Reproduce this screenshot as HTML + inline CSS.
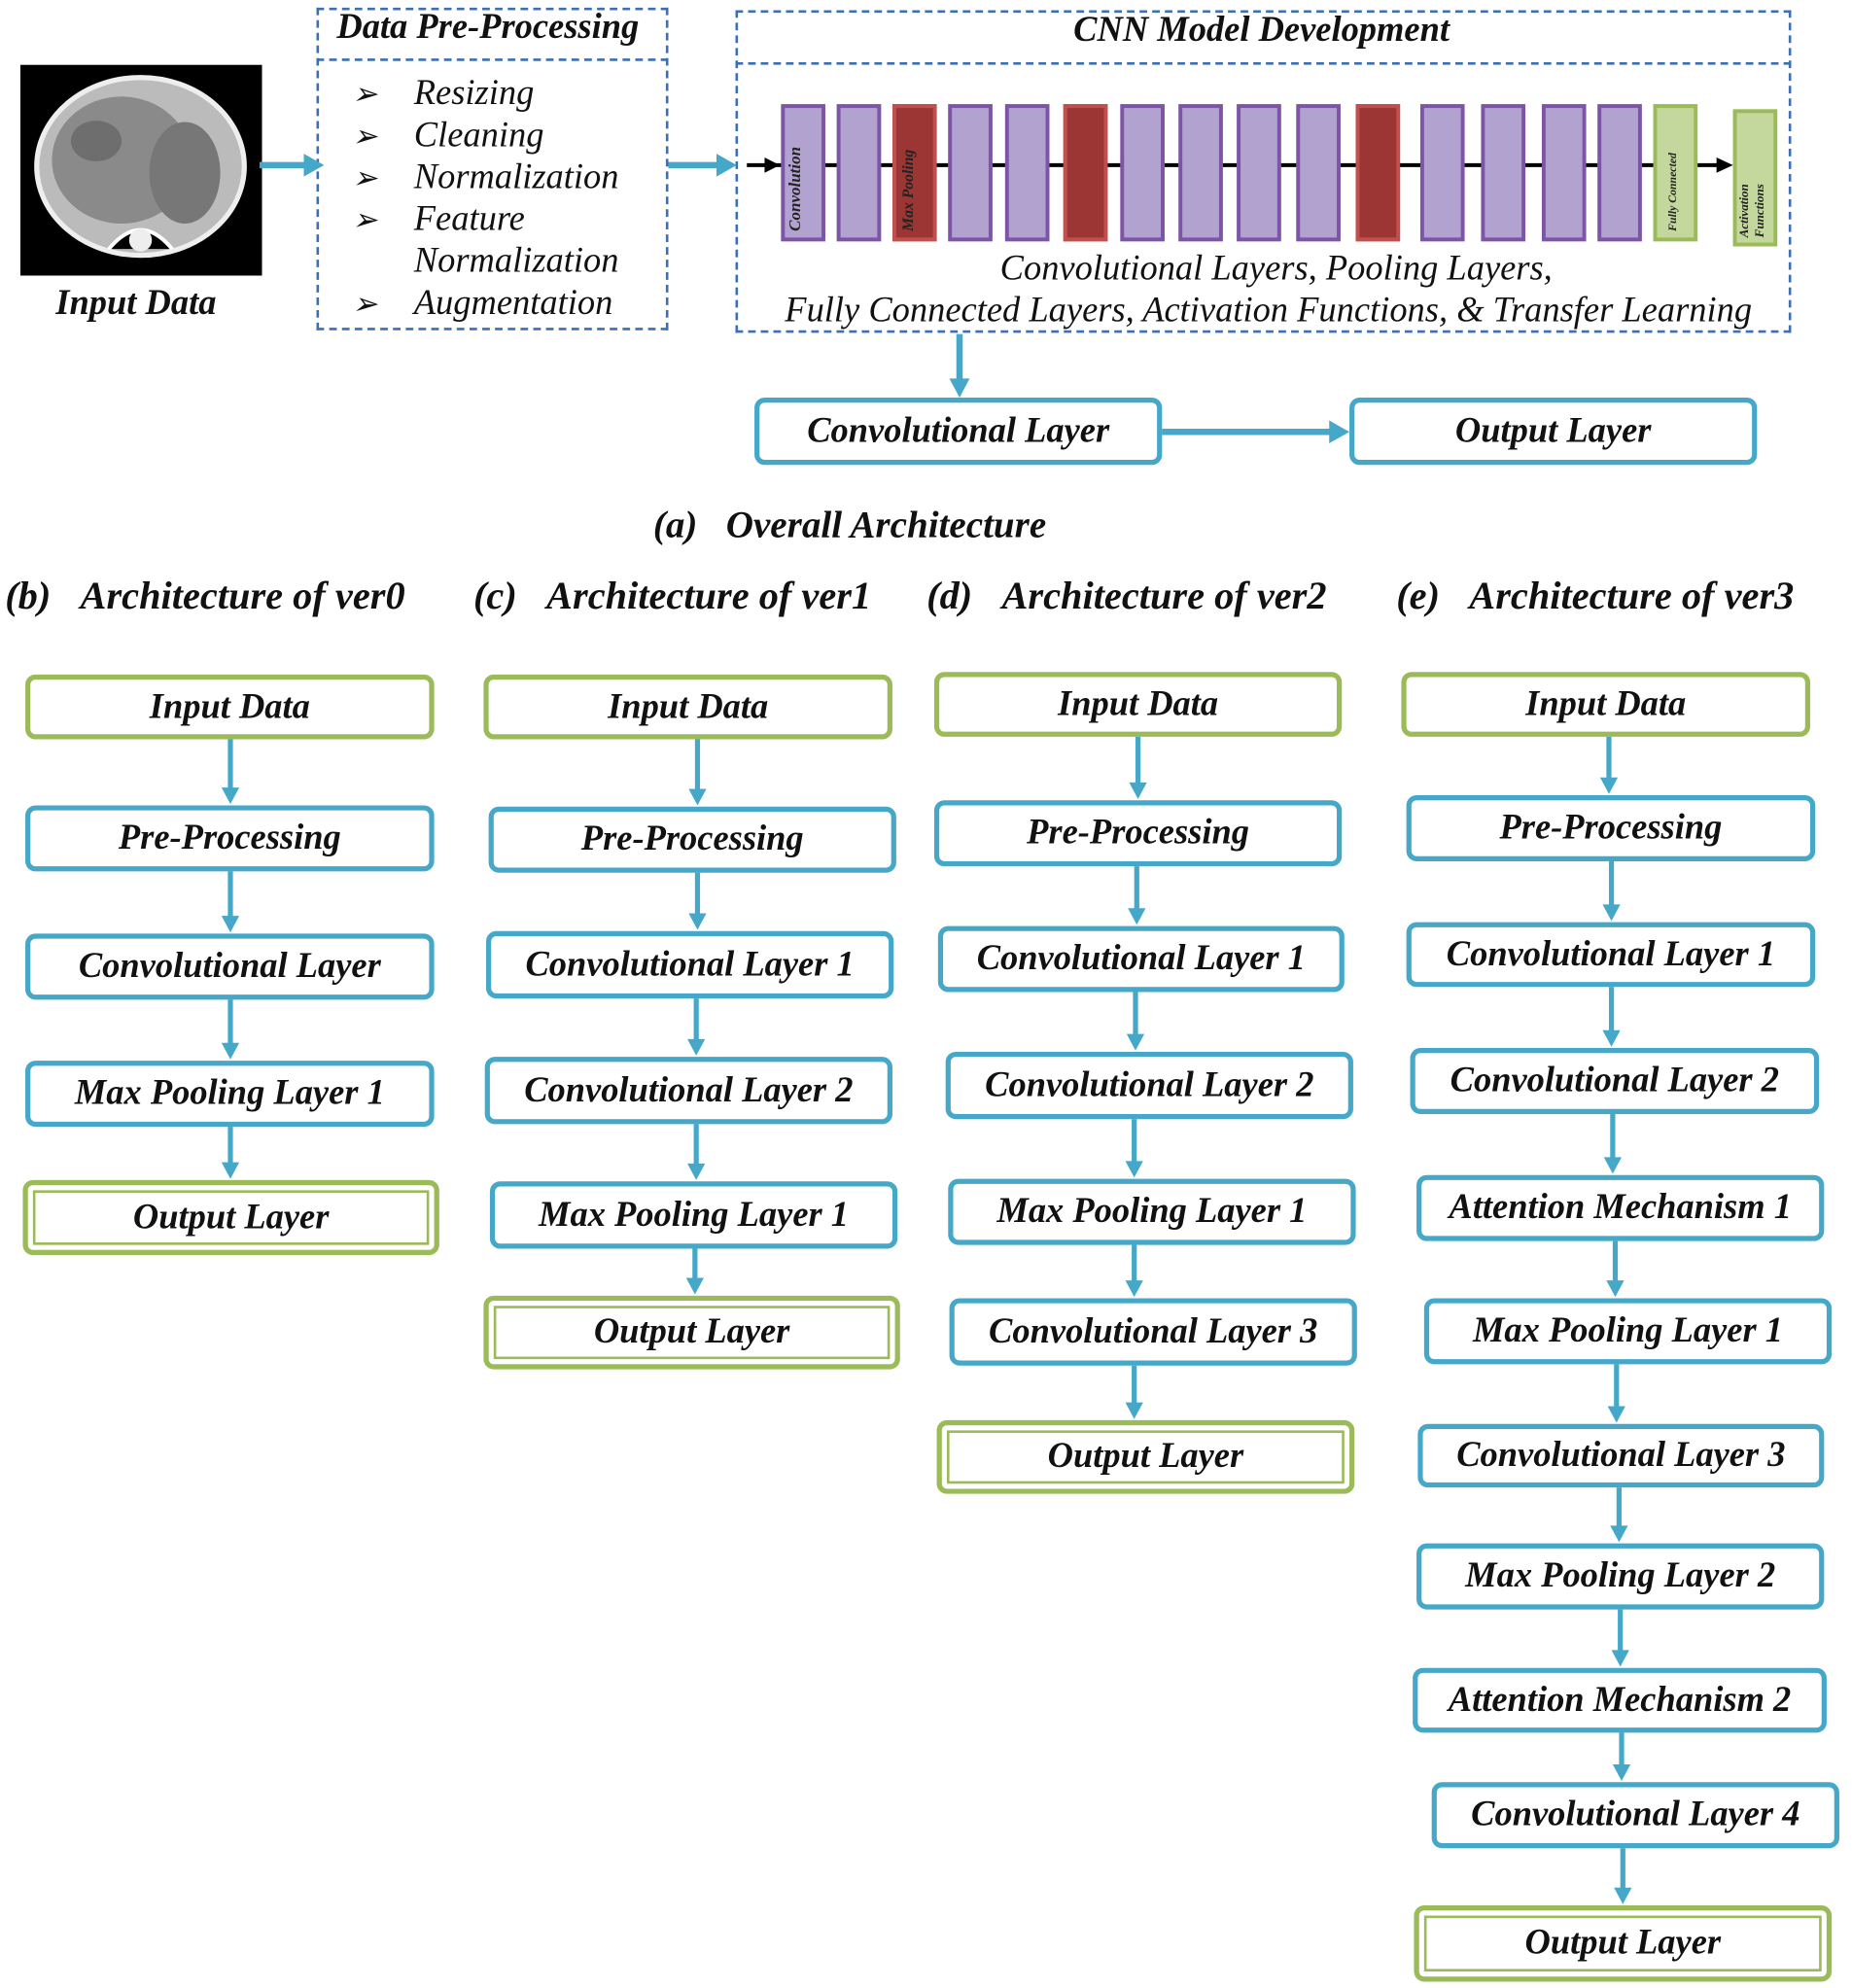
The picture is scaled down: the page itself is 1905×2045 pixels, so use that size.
<!DOCTYPE html>
<html><head><meta charset="utf-8">
<style>
html,body{margin:0;padding:0;background:#fff;}
body{width:1905px;height:2045px;overflow:hidden;position:relative;}
#w{position:absolute;left:0;top:0;width:1463px;height:1565px;transform:scale(1.3021,1.3067);transform-origin:0 0;font-family:"Liberation Serif",serif;}
.a{position:absolute;}
.t{position:absolute;font-style:italic;white-space:nowrap;color:#111;}
.b{position:absolute;box-sizing:border-box;border:4px solid #45a8c8;border-radius:8px;background:#fff;display:flex;align-items:center;justify-content:center;font-style:italic;font-weight:bold;font-size:28px;color:#111;white-space:nowrap;}
.g{border-color:#9bbb59;}
.o{border:4px solid #9bbb59;box-shadow:inset 0 0 0 4px #fff,inset 0 0 0 6px #9bbb59;border-radius:8px;}
.h{position:absolute;font-style:italic;font-weight:bold;font-size:31px;white-space:nowrap;color:#111;}
.bar{position:absolute;box-sizing:border-box;border:3px solid #7d55a6;background:#b2a2cf;top:82px;height:108px;width:35px;}
.r{background:#9b3634;border-color:#c0504d;}
.gr{background:#c4d79c;border-color:#9bbb59;}
.v{position:absolute;writing-mode:vertical-rl;transform:rotate(180deg);font-style:italic;font-weight:bold;color:#222;white-space:nowrap;}
</style></head><body>
<div id="w">
<svg class="a" style="left:16px;top:51px" width="191" height="166">
<rect width="191" height="166" fill="#000"/>
<ellipse cx="95" cy="80" rx="82" ry="70" fill="#bbb" stroke="#eee" stroke-width="4"/>
<ellipse cx="80" cy="75" rx="55" ry="50" fill="#8a8a8a"/>
<ellipse cx="60" cy="60" rx="20" ry="16" fill="#6e6e6e"/>
<ellipse cx="130" cy="85" rx="28" ry="40" fill="#777"/>
<path d="M70 145 Q95 115 120 145" fill="#000" stroke="#fff" stroke-width="3"/>
<circle cx="95" cy="138" r="9" fill="#eee"/>
</svg>
<div class="t" style="left:44px;top:223px;font-size:28px;font-weight:bold">Input Data</div>

<div class="a" style="left:250px;top:6px;width:278px;height:254px;box-sizing:border-box;border:2px dashed #3d6fb6"></div>
<div class="a" style="left:250px;top:46px;width:278px;border-top:2px dashed #3d6fb6"></div>
<div class="t" style="left:266px;top:6px;font-size:28px;font-weight:bold">Data Pre-Processing</div>
<div class="t" style="left:278px;top:59px;font-size:24px;line-height:33px">➢<br>➢<br>➢<br>➢<br><br>➢</div>
<div class="t" style="left:327px;top:57px;font-size:28px;line-height:33px">Resizing<br>Cleaning<br>Normalization<br>Feature<br>Normalization<br>Augmentation</div>

<div class="a" style="left:581px;top:8px;width:834px;height:254px;box-sizing:border-box;border:2px dashed #3d6fb6"></div>
<div class="a" style="left:581px;top:49px;width:834px;border-top:2px dashed #3d6fb6"></div>
<div class="t" style="left:848px;top:8px;font-size:28px;font-weight:bold">CNN Model Development</div>
<svg class="a" style="left:0;top:0" width="1463" height="1565">
<line x1="590" y1="130" x2="1360" y2="130" stroke="#000" stroke-width="3"/>
<polygon points="604,124 616,130 604,136" fill="#000"/>
<polygon points="1356,124 1369,130 1356,136" fill="#000"/>
</svg>
<div class="bar" style="left:617px"></div>
<div class="v" style="left:620px;top:90px;height:92px;font-size:13px">Convolution</div>
<div class="bar" style="left:661px"></div>
<div class="bar r" style="left:705px"></div>
<div class="v" style="left:710px;top:90px;height:92px;font-size:12px">Max Pooling</div>
<div class="bar" style="left:749px"></div>
<div class="bar" style="left:794px"></div>
<div class="bar r" style="left:840px"></div>
<div class="bar" style="left:885px"></div>
<div class="bar" style="left:931px"></div>
<div class="bar" style="left:977px"></div>
<div class="bar" style="left:1024px"></div>
<div class="bar r" style="left:1071px"></div>
<div class="bar" style="left:1122px"></div>
<div class="bar" style="left:1170px"></div>
<div class="bar" style="left:1218px"></div>
<div class="bar" style="left:1262px"></div>
<div class="bar gr" style="left:1306px"></div>
<div class="v" style="left:1316px;top:90px;height:92px;font-size:9px">Fully Connected</div>
<div class="bar gr" style="left:1369px;top:86px"></div>
<div class="v" style="left:1373px;top:95px;height:92px;font-size:10px;line-height:12px">Activation<br>Functions</div>
<div class="t" style="left:790px;top:196px;font-size:28px">Convolutional Layers, Pooling Layers,</div>
<div class="t" style="left:620px;top:229px;font-size:28px">Fully Connected Layers, Activation Functions, &amp; Transfer Learning</div>

<div class="b" style="left:596px;top:313px;width:322px;height:53px">Convolutional Layer</div>
<div class="b" style="left:1066px;top:313px;width:322px;height:53px">Output Layer</div>
<div class="t" style="left:516px;top:397px;font-size:30px;font-weight:bold">(a)&nbsp;&nbsp;&nbsp;Overall Architecture</div>

<div class="h" style="left:4px;top:451px">(b)&nbsp;&nbsp;&nbsp;Architecture of ver0</div>
<div class="h" style="left:374px;top:451px">(c)&nbsp;&nbsp;&nbsp;Architecture of ver1</div>
<div class="h" style="left:732px;top:451px">(d)&nbsp;&nbsp;&nbsp;Architecture of ver2</div>
<div class="h" style="left:1103px;top:451px">(e)&nbsp;&nbsp;&nbsp;Architecture of ver3</div>

<div class="b g" style="left:20px;top:531px;width:323px;height:51px">Input Data</div>
<div class="b" style="left:20px;top:634px;width:323px;height:52px">Pre-Processing</div>
<div class="b" style="left:20px;top:735px;width:323px;height:52px">Convolutional Layer</div>
<div class="b" style="left:20px;top:835px;width:323px;height:52px">Max Pooling Layer 1</div>
<div class="b o" style="left:18px;top:929px;width:329px;height:59px">Output Layer</div>

<div class="b g" style="left:382px;top:531px;width:323px;height:51px">Input Data</div>
<div class="b" style="left:386px;top:635px;width:322px;height:52px">Pre-Processing</div>
<div class="b" style="left:384px;top:733px;width:322px;height:53px">Convolutional Layer 1</div>
<div class="b" style="left:383px;top:832px;width:322px;height:53px">Convolutional Layer 2</div>
<div class="b" style="left:387px;top:930px;width:322px;height:53px">Max Pooling Layer 1</div>
<div class="b o" style="left:382px;top:1020px;width:329px;height:58px">Output Layer</div>

<div class="b g" style="left:738px;top:529px;width:322px;height:51px">Input Data</div>
<div class="b" style="left:738px;top:630px;width:322px;height:52px">Pre-Processing</div>
<div class="b" style="left:741px;top:729px;width:321px;height:52px">Convolutional Layer 1</div>
<div class="b" style="left:747px;top:828px;width:322px;height:53px">Convolutional Layer 2</div>
<div class="b" style="left:749px;top:928px;width:322px;height:52px">Max Pooling Layer 1</div>
<div class="b" style="left:750px;top:1022px;width:322px;height:53px">Convolutional Layer 3</div>
<div class="b o" style="left:740px;top:1118px;width:330px;height:58px">Output Layer</div>

<div class="b g" style="left:1107px;top:529px;width:323px;height:51px">Input Data</div>
<div class="b" style="left:1111px;top:626px;width:323px;height:52px">Pre-Processing</div>
<div class="b" style="left:1111px;top:726px;width:323px;height:51px">Convolutional Layer 1</div>
<div class="b" style="left:1114px;top:825px;width:323px;height:52px">Convolutional Layer 2</div>
<div class="b" style="left:1119px;top:925px;width:322px;height:52px">Attention Mechanism 1</div>
<div class="b" style="left:1125px;top:1022px;width:322px;height:52px">Max Pooling Layer 1</div>
<div class="b" style="left:1120px;top:1121px;width:321px;height:50px">Convolutional Layer 3</div>
<div class="b" style="left:1119px;top:1215px;width:322px;height:52px">Max Pooling Layer 2</div>
<div class="b" style="left:1116px;top:1313px;width:327px;height:51px">Attention Mechanism 2</div>
<div class="b" style="left:1131px;top:1403px;width:322px;height:52px">Convolutional Layer 4</div>
<div class="b o" style="left:1117px;top:1500px;width:330px;height:60px">Output Layer</div>

<svg class="a" style="left:0;top:0" width="1463" height="1565">
<g stroke="#45a8c8" stroke-width="5" fill="none">
<line x1="205" y1="130" x2="242" y2="130"/>
<line x1="528" y1="130" x2="568" y2="130"/>
<line x1="758" y1="263" x2="758" y2="300"/>
<line x1="918" y1="340" x2="1052" y2="340"/>
</g>
<g fill="#45a8c8">
<polygon points="240,121 256,130 240,139"/>
<polygon points="566,121 582,130 566,139"/>
<polygon points="750,298 758,313 766,298"/>
<polygon points="1050,331 1066,340 1050,349"/>
</g>
<g stroke="#45a8c8" stroke-width="4">
<line x1="182" y1="582" x2="182" y2="624"/><line x1="182" y1="686" x2="182" y2="725"/><line x1="182" y1="787" x2="182" y2="825"/><line x1="182" y1="887" x2="182" y2="919"/>
<line x1="551" y1="582" x2="551" y2="625"/><line x1="551" y1="687" x2="551" y2="723"/><line x1="550" y1="786" x2="550" y2="822"/><line x1="550" y1="885" x2="550" y2="920"/><line x1="549" y1="983" x2="549" y2="1010"/>
<line x1="899" y1="580" x2="899" y2="620"/><line x1="898" y1="682" x2="898" y2="719"/><line x1="897" y1="781" x2="897" y2="818"/><line x1="896" y1="881" x2="896" y2="918"/><line x1="896" y1="980" x2="896" y2="1012"/><line x1="896" y1="1075" x2="896" y2="1108"/>
<line x1="1271" y1="580" x2="1271" y2="616"/><line x1="1273" y1="678" x2="1273" y2="716"/><line x1="1273" y1="777" x2="1273" y2="815"/><line x1="1274" y1="877" x2="1274" y2="915"/><line x1="1276" y1="977" x2="1276" y2="1012"/><line x1="1277" y1="1074" x2="1277" y2="1111"/><line x1="1279" y1="1171" x2="1279" y2="1205"/><line x1="1280" y1="1267" x2="1280" y2="1303"/><line x1="1281" y1="1364" x2="1281" y2="1393"/><line x1="1282" y1="1455" x2="1282" y2="1490"/>
</g>
<g fill="#45a8c8">
<polygon points="175,620 189,620 182,633"/><polygon points="175,721 189,721 182,734"/><polygon points="175,821 189,821 182,834"/><polygon points="175,915 189,915 182,928"/>
<polygon points="544,621 558,621 551,634"/><polygon points="544,719 558,719 551,732"/><polygon points="543,818 557,818 550,831"/><polygon points="543,916 557,916 550,929"/><polygon points="542,1006 556,1006 549,1019"/>
<polygon points="892,616 906,616 899,629"/><polygon points="891,715 905,715 898,728"/><polygon points="890,814 904,814 897,827"/><polygon points="889,914 903,914 896,927"/><polygon points="889,1008 903,1008 896,1021"/><polygon points="889,1104 903,1104 896,1117"/>
<polygon points="1264,612 1278,612 1271,625"/><polygon points="1266,712 1280,712 1273,725"/><polygon points="1266,811 1280,811 1273,824"/><polygon points="1267,911 1281,911 1274,924"/><polygon points="1269,1008 1283,1008 1276,1021"/><polygon points="1270,1107 1284,1107 1277,1120"/><polygon points="1272,1201 1286,1201 1279,1214"/><polygon points="1273,1299 1287,1299 1280,1312"/><polygon points="1274,1389 1288,1389 1281,1402"/><polygon points="1275,1486 1289,1486 1282,1499"/>
</g>
</svg>
</div>
</body></html>
